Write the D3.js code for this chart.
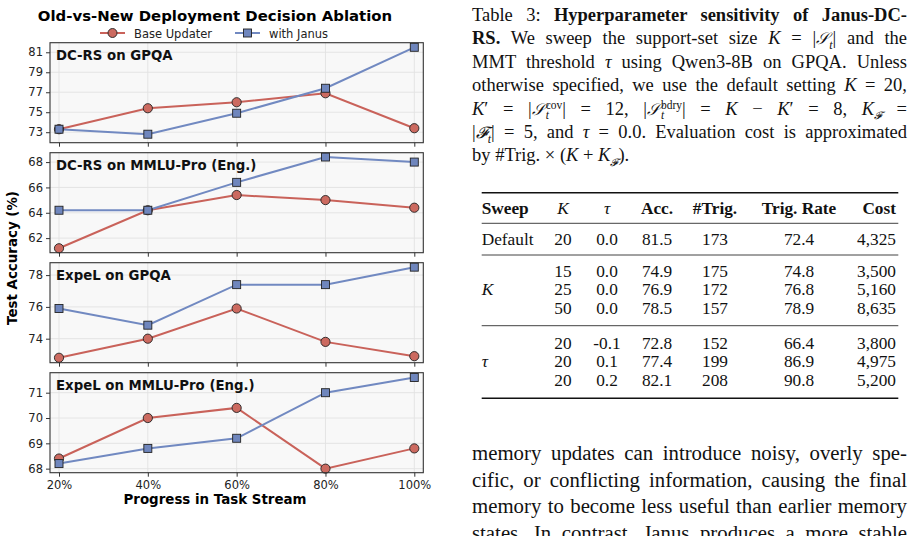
<!DOCTYPE html>
<html>
<head>
<meta charset="utf-8">
<script src="https://cdn.jsdelivr.net/npm/d3@7"></script>
<style>
  body { margin: 0; background: #fff; overflow: hidden; }
  #page { position: relative; width: 917px; height: 536px; overflow: hidden; }
  #chart { position: absolute; left: 0; top: 0; }
  .cap, .para { position: absolute; left: 472px; width: 435px; font-family: "Liberation Serif", "Times New Roman", serif;
                color: #111; white-space: nowrap; text-align: justify; text-align-last: justify; }
  .cap { font-size: 18.5px; line-height: 22px; }
  .para { font-size: 20.8px; line-height: 24px; }
  .cal { font-family: "DejaVu Serif", "Noto Sans", serif; font-style: italic; font-size: 0.88em; }
  .ss { display: inline-block; vertical-align: -4px; font-size: 11.5px; line-height: 10px; margin-left: 1px; }
  .ss span { display: block; }
  sub { font-size: 12px; line-height: 0; }
</style>
</head>
<body>
<div id="page"><svg id="chart" width="917" height="536"></svg></div>
<script>
// progress steps on the x axis
var steps = ["20%", "40%", "60%", "80%", "100%"]
var panelNames = ["DC-RS on GPQA", "DC-RS on MMLU-Pro (Eng.)", "ExpeL on GPQA", "ExpeL on MMLU-Pro (Eng.)"]

// values
var baseDcGpqa  = [73.3, 75.4, 76.0, 76.9, 73.4]
var janusDcGpqa = [73.3, 72.8, 74.9, 77.4, 81.5]
var baseDcMmlu  = [61.2, 64.2, 65.4, 65.0, 64.4]
var janusDcMmlu = [64.2, 64.2, 66.4, 68.4, 68.0]
var baseExGpqa  = [72.8, 74.0, 75.9, 73.8, 72.9]
var janusExGpqa = [75.9, 74.85, 77.4, 77.4, 78.5]
var baseExMmlu  = [68.4, 70.0, 70.4, 68.0, 68.8]
var janusExMmlu = [68.2, 68.8, 69.2, 71.0, 71.6]

var yTicks = [[73, 75, 77, 79, 81], [62, 64, 66, 68], [74, 76, 78], [68, 69, 70, 71]]
var yLimits = [[71.95, 81.96], [60.85, 68.74], [72.49, 78.78], [67.84, 71.79]]

var baseSeries = [baseDcGpqa, baseDcMmlu, baseExGpqa, baseExMmlu]
var janusSeries = [janusDcGpqa, janusDcMmlu, janusExGpqa, janusExMmlu]

// table 3 data
var tableHeader = ["Sweep", "K", "τ", "Acc.", "#Trig.", "Trig. Rate", "Cost"]
var sweepK   = ["20", "15", "25", "50", "20", "20", "20"]
var sweepTau = ["0.0", "0.0", "0.0", "0.0", "-0.1", "0.1", "0.2"]
var sweepAcc = ["81.5", "74.9", "76.9", "78.5", "72.8", "77.4", "82.1"]
var sweepTrig = ["173", "175", "172", "157", "152", "199", "208"]
var sweepRate = ["72.4", "74.8", "76.8", "78.9", "66.4", "86.9", "90.8"]
var sweepCost = ["4,325", "3,500", "5,160", "8,635", "3,800", "4,975", "5,200"]

var red = "#c9625a", blue = "#7189c1"
var redFill = "#cc6a60", blueFill = "#6f86bd"
var sans = "'DejaVu Sans', sans-serif"

var svg = d3.select("#chart")

var left = 50, panelW = 373.3, panelH = 100, firstTop = 42.7, gap = 10

svg.append("text")
   .attr("x", 215).attr("y", 21)
   .attr("text-anchor", "middle")
   .style("font-family", sans).style("font-weight", "bold").style("font-size", "14.9px")
   .text("Old-vs-New Deployment Decision Ablation")

// legend
var legend = [["Base Updater", red, redFill, "circle", 100], ["with Janus", blue, blueFill, "square", 235]]
legend.forEach(function(l){
  var g = svg.append("g").attr("transform", "translate(" + l[4] + ",33)")
  g.append("line").attr("x1", 0).attr("x2", 25).attr("stroke", l[1]).attr("stroke-width", 2)
  if (l[3] === "circle") {
    g.append("circle").attr("cx", 12.5).attr("r", 4.5).attr("fill", l[2]).attr("stroke", "#222").attr("stroke-width", 0.9)
  } else {
    g.append("rect").attr("x", 8.5).attr("y", -4).attr("width", 8).attr("height", 8).attr("fill", l[2]).attr("stroke", "#222").attr("stroke-width", 0.9)
  }
  g.append("text").attr("x", 34).attr("y", 4.5)
   .style("font-family", sans).style("font-size", "11.5px").style("fill", "#222")
   .text(l[0])
})

var xScale = d3.scalePoint().domain(steps).range([9, panelW - 9])

panelNames.forEach(function(name, i){
  var top = firstTop + i * (panelH + gap)
  var g = svg.append("g").attr("transform", "translate(" + left + "," + top + ")")
  var yScale = d3.scaleLinear().domain(yLimits[i]).range([panelH, 0])

  g.append("rect").attr("width", panelW).attr("height", panelH).attr("fill", "#f8f8f8")

  // grid
  g.selectAll(".vgrid").data(steps).enter().append("line")
   .attr("x1", function(d){ return xScale(d) }).attr("x2", function(d){ return xScale(d) })
   .attr("y1", 0).attr("y2", panelH)
   .attr("stroke", "#e2e2e2").attr("stroke-width", 0.9)
  g.selectAll(".hgrid").data(yTicks[i]).enter().append("line")
   .attr("x1", 0).attr("x2", panelW)
   .attr("y1", function(d){ return yScale(d) }).attr("y2", function(d){ return yScale(d) })
   .attr("stroke", "#e2e2e2").attr("stroke-width", 0.9)

  var yAxis = d3.axisLeft(yScale).tickValues(yTicks[i]).tickFormat(d3.format("d")).tickSize(4).tickPadding(3)
  var ya = g.append("g").call(yAxis)
  ya.select(".domain").remove()
  ya.selectAll("text").style("font-family", sans).style("font-size", "11.5px").style("fill", "#222")
  ya.selectAll("line").attr("stroke", "#333")

  var xAxis = d3.axisBottom(xScale).tickSize(4).tickPadding(4)
  var xa = g.append("g").attr("transform", "translate(0," + panelH + ")").call(xAxis)
  xa.select(".domain").remove()
  xa.selectAll("line").attr("stroke", "#333")
  xa.selectAll("text").style("font-family", sans).style("font-size", "11.5px").style("fill", "#222")
  if (i < panelNames.length - 1) xa.selectAll("text").remove()

  var line = d3.line()
               .x(function(d, j){ return xScale(steps[j]) })
               .y(function(d){ return yScale(d) })

  g.append("path").datum(baseSeries[i]).attr("d", line)
   .attr("fill", "none").attr("stroke", red).attr("stroke-width", 2)
  g.append("path").datum(janusSeries[i]).attr("d", line)
   .attr("fill", "none").attr("stroke", blue).attr("stroke-width", 2)

  g.selectAll(".dot").data(baseSeries[i]).enter().append("circle")
   .attr("cx", function(d, j){ return xScale(steps[j]) })
   .attr("cy", function(d){ return yScale(d) })
   .attr("r", 4.6).attr("fill", redFill).attr("stroke", "#222").attr("stroke-width", 0.9)
  g.selectAll(".sq").data(janusSeries[i]).enter().append("rect")
   .attr("x", function(d, j){ return xScale(steps[j]) - 4 })
   .attr("y", function(d){ return yScale(d) - 4 })
   .attr("width", 8).attr("height", 8)
   .attr("fill", blueFill).attr("stroke", "#222").attr("stroke-width", 0.9)

  g.append("rect").attr("width", panelW).attr("height", panelH)
   .attr("fill", "none").attr("stroke", "#333").attr("stroke-width", 1.1)

  g.append("text").attr("x", 6).attr("y", 17)
   .style("font-family", sans).style("font-weight", "bold").style("font-size", "13.3px").style("fill", "#111")
   .text(name)
})

svg.append("text")
   .attr("transform", "translate(17,258) rotate(-90)")
   .attr("text-anchor", "middle")
   .style("font-family", sans).style("font-weight", "bold").style("font-size", "13.4px")
   .text("Test Accuracy (%)")

svg.append("text")
   .attr("x", 215).attr("y", 504)
   .attr("text-anchor", "middle")
   .style("font-family", sans).style("font-weight", "bold").style("font-size", "13.4px")
   .text("Progress in Task Stream")

// caption
var S = "<span class='cal'>𝒮</span>", F = "<span class='cal'>𝓕</span>"
var captionLines = [
  "Table 3: <b>Hyperparameter sensitivity of Janus-DC-</b>",
  "<b>RS.</b> We sweep the support-set size <i>K</i> = |" + S + "<sub><i>t</i></sub>| and the",
  "MMT threshold <i>τ</i> using Qwen3-8B on GPQA. Unless",
  "otherwise specified, we use the default setting <i>K</i> = 20,",
  "<i>K</i>′ = |" + S + "<span class='ss'><span>cov</span><span><i>t</i></span></span>| = 12, |" + S + "<span class='ss'><span>bdry</span><span><i>t</i></span></span>| = <i>K</i> − <i>K</i>′ = 8, <i>K</i><sub>" + F + "</sub> =",
  "|" + F + "<sub><i>t</i></sub>| = 5, and <i>τ</i> = 0.0. Evaluation cost is approximated",
  "by #Trig. × (<i>K</i> + <i>K</i><sub>" + F + "</sub>)."
]
var page = d3.select("#page")
page.selectAll(".cap").data(captionLines).enter().append("div")
    .attr("class", "cap")
    .style("top", function(d, i){ return (4 + i * 23.4) + "px" })
    .style("text-align-last", function(d, i){ return i === captionLines.length - 1 ? "left" : "justify" })
    .html(function(d){ return d })

var paraLines = [
  "memory updates can introduce noisy, overly spe-",
  "cific, or conflicting information, causing the final",
  "memory to become less useful than earlier memory",
  "states. In contrast, Janus produces a more stable"
]
page.selectAll(".para").data(paraLines).enter().append("div")
    .attr("class", "para")
    .style("top", function(d, i){ return (441 + i * 26.7) + "px" })
    .text(function(d){ return d })

// table
var serif = "'Liberation Serif', 'Times New Roman', serif"
var tLeft = 481.7, tRight = 898.3
var colX = [481.7, 563, 607, 657, 715, 799, 896]
var colAnchor = ["start", "middle", "middle", "middle", "middle", "middle", "end"]
var rowY = [239.3, 270.7, 289.3, 308.3, 342.7, 361, 380]

var t = svg.append("g").style("font-family", serif).style("font-size", "17.3px").style("fill", "#111")
var rules = [[192.7, 1.4], [223.3, 0.8], [255, 0.8], [325.7, 0.8], [398.3, 1.4]]
rules.forEach(function(r){
  t.append("line").attr("x1", tLeft).attr("x2", tRight).attr("y1", r[0]).attr("y2", r[0])
   .attr("stroke", "#111").attr("stroke-width", r[1])
})
tableHeader.forEach(function(h, j){
  t.append("text").attr("x", colX[j]).attr("y", 213.8).attr("text-anchor", colAnchor[j])
   .style("font-weight", (j === 1 || j === 2) ? "normal" : "bold")
   .style("font-style", (j === 1 || j === 2) ? "italic" : "normal")
   .text(h)
})
var rowLabel = ["Default", "", "K", "", "", "τ", ""]
var cols = [rowLabel, sweepK, sweepTau, sweepAcc, sweepTrig, sweepRate, sweepCost]
rowY.forEach(function(y, r){
  cols.forEach(function(c, j){
    if (c[r] === "") return
    t.append("text").attr("x", colX[j]).attr("y", y + 5.8).attr("text-anchor", colAnchor[j])
     .style("font-style", (j === 0 && r > 0) ? "italic" : "normal")
     .text(c[r])
  })
})
</script>
</body>
</html>
